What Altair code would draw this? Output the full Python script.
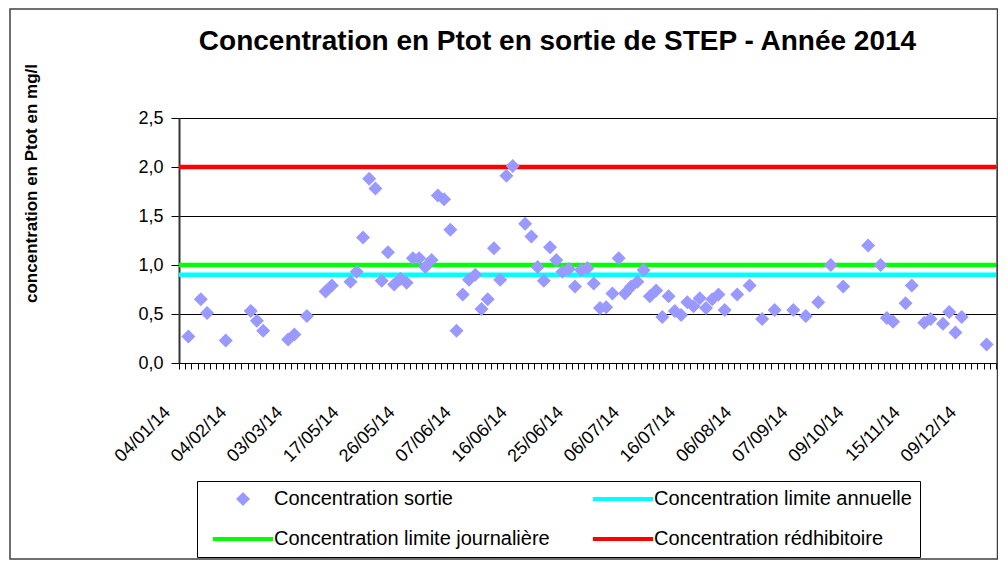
import altair as alt
import pandas as pd

# ---------------- data ----------------
title_text = "Concentration en Ptot en sortie de STEP - Année 2014"
y_title = "concentration en Ptot en mg/l"

n_categories = 131
label_step = 9
tick_labels = ["04/01/14", "04/02/14", "03/03/14", "17/05/14", "26/05/14",
               "07/06/14", "16/06/14", "25/06/14", "06/07/14", "16/07/14",
               "06/08/14", "07/09/14", "09/10/14", "15/11/14", "09/12/14"]
y_ticks = [0, 0.5, 1.0, 1.5, 2.0, 2.5]

point_cats = [1, 3, 4, 7, 11, 12, 13, 17, 18, 20, 23, 24, 27, 28, 29, 30, 31,
              32, 33, 34, 35, 36, 37, 38, 39, 40, 41, 42, 43, 44, 45, 46, 47,
              48, 49, 50, 51, 52, 53, 55, 56, 57, 58, 59, 60, 61, 62, 63, 64,
              65, 66, 67, 68, 69, 70, 71, 72, 73, 74, 75, 76, 77, 78, 79, 80,
              81, 82, 83, 84, 85, 86, 87, 89, 91, 93, 95, 98, 100, 102, 104,
              106, 110, 112, 113, 114, 116, 117, 119, 120, 122, 123, 124, 125,
              129]
point_values = [0.27, 0.65, 0.51, 0.23, 0.53, 0.43, 0.33, 0.24, 0.29, 0.48,
                0.73, 0.79, 0.83, 0.93, 1.28, 1.88, 1.78,
                0.84, 1.13, 0.80, 0.86, 0.82, 1.07, 1.07, 0.98, 1.05, 1.71,
                1.67, 1.36, 0.33, 0.70, 0.85, 0.90,
                0.55, 0.65, 1.17, 0.85, 1.91, 2.01, 1.42, 1.29, 0.98, 0.84,
                1.18, 1.05, 0.93, 0.96, 0.78, 0.95,
                0.97, 0.81, 0.56, 0.57, 0.71, 1.07, 0.71, 0.78, 0.83, 0.95,
                0.68, 0.74, 0.47, 0.68, 0.53, 0.49,
                0.62, 0.58, 0.66, 0.56, 0.65, 0.70, 0.54, 0.70, 0.79, 0.45,
                0.54, 0.54, 0.48, 0.62, 1.00,
                0.78, 1.20, 1.00, 0.46, 0.42, 0.61, 0.79, 0.41, 0.45, 0.40,
                0.52, 0.31, 0.47,
                0.19]

series_names = ["Concentration sortie", "Concentration limite annuelle",
                "Concentration limite journalière", "Concentration rédhibitoire"]
series_colors = ["#9999FF", "#00FFFF", "#00FF00", "#FF0000"]
limit_names = series_names[1:]
limit_values = [0.9, 1.0, 2.0]
limit_colors = series_colors[1:]

# symbol shapes: diamond for the measured series, flat bar for the limit lines
diamond = "M0,-1L1,0L0,1L-1,0Z"
bar = "M-4.3,-0.3H4.3V0.3H-4.3Z"
symbol_paths = [diamond, bar, bar, bar]

points = pd.DataFrame({"cat": point_cats, "value": point_values})
points["series"] = series_names[0]
limits = pd.DataFrame({"series": limit_names, "value": limit_values})

# ---------------- chart ----------------
FONT = "Liberation Sans"
W, H = 817, 245

x_scale = alt.Scale(domain=[0, n_categories], nice=False, zero=False)
y_scale = alt.Scale(domain=[0, 2.5], nice=False, zero=True)
color_scale = alt.Scale(domain=series_names, range=series_colors)
shape_scale = alt.Scale(domain=series_names, range=symbol_paths)

label_expr = "''"
for i in reversed(range(len(tick_labels))):
    label_expr = f"datum.value == {i * label_step} ? '{tick_labels[i]}' : ({label_expr})"

x_axis = alt.Axis(
    values=list(range(0, n_categories + 1)),
    labelExpr=label_expr,
    labelAngle=-45, labelAlign="right", labelBaseline="top",
    labelOffset=-18, labelPadding=34,
    labelFontSize=18, labelFont=FONT, labelColor="black",
    labelOverlap=False,
    tickSize=6, tickColor="black", tickWidth=1,
    domainColor="black", domainWidth=1,
    grid=False, title=None,
)
y_axis = alt.Axis(
    values=y_ticks,
    labelExpr="replace(format(datum.value, '.1f'), '.', ',')",
    labelFontSize=18, labelFont=FONT, labelColor="black", labelPadding=8,
    tickSize=8, tickColor="black", tickWidth=1,
    domainColor="#333333", domainWidth=2,
    grid=True, gridColor="#000000", gridWidth=1,
    title=y_title, titleFont=FONT, titleFontSize=17, titleFontWeight="bold",
    titleColor="black", titleAngle=270, titleX=-148, titleY=65,
    titleAlign="center", titleBaseline="middle",
)
legend = alt.Legend(
    title=None, orient="none", legendX=18, legendY=363, direction="horizontal",
    columns=2, columnPadding=35, rowPadding=20, padding=8, gridAlign="all",
    labelFont=FONT, labelFontSize=20, labelColor="black", labelOffset=21,
    labelLimit=500,
    symbolSize=196, symbolOffset=28, symbolStrokeWidth=0, symbolOpacity=1,
    strokeColor="black", fillColor="white",
)

# chart-area border (decoration)
frame = alt.Chart(pd.DataFrame({"k": [0]})).mark_rect(
    fillOpacity=0, stroke="#404040", strokeWidth=1.5
).encode(
    x=alt.value(-169), x2=alt.value(W + 1.5), y=alt.value(-109), y2=alt.value(441)
)

# limit lines: horizontal rules spanning the plot width
rules = alt.Chart(limits).mark_rule(strokeWidth=4.5, strokeCap="butt").encode(
    y=alt.Y("value:Q", scale=y_scale, axis=y_axis),
    stroke=alt.Stroke("series:N", scale=alt.Scale(domain=limit_names, range=limit_colors),
                      legend=None),
)

pts = alt.Chart(points).transform_calculate(
    xpos="datum.cat + 0.5"
).mark_point(filled=True, size=196, opacity=1, strokeWidth=0).encode(
    x=alt.X("xpos:Q", scale=x_scale, axis=x_axis),
    y=alt.Y("value:Q", scale=y_scale, axis=y_axis),
    color=alt.Color("series:N", scale=color_scale, legend=legend),
    shape=alt.Shape("series:N", scale=shape_scale, legend=legend),
)

chart = alt.layer(frame, rules, pts).properties(
    width=W, height=H,
    title=alt.TitleParams(
        title_text, anchor="middle", frame="group", dx=-30, offset=-48,
        font=FONT, fontSize=28, fontWeight="bold", color="black",
    ),
    autosize=alt.AutoSizeParams(type="none"),
    padding={"left": 171, "top": 110, "right": 2, "bottom": 197},
).configure(
    background="white",
    view=alt.ViewConfig(stroke="#808080", strokeWidth=1),
)

chart.save("out.html", embed_options={"renderer": "svg", "actions": False})
